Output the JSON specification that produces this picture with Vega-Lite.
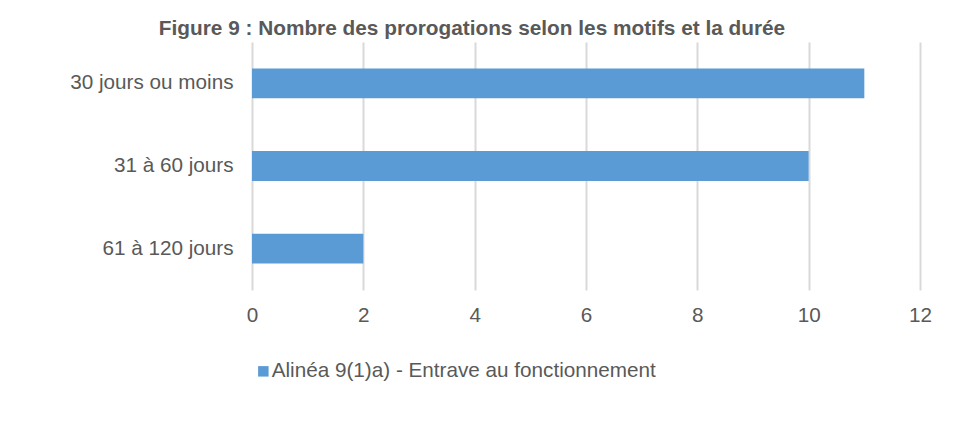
{
  "$schema": "https://vega.github.io/schema/vega-lite/v6.json",
  "autosize": {"type": "none"},
  "width": 668,
  "height": 248,
  "padding": {"left": 252, "top": 42, "right": 37, "bottom": 136},
  "background": "white",
  "config": {
    "font": "Liberation Sans",
    "view": {"stroke": null}
  },
  "title": {
    "text": "Figure 9 : Nombre des prorogations selon les motifs et la durée",
    "anchor": "middle",
    "dx": -114,
    "dy": 21,
    "offset": 7,
    "baseline": "alphabetic",
    "fontSize": 20.8,
    "fontWeight": "bold",
    "color": "#595959",
    "font": "Liberation Sans"
  },
  "data": {
    "values": [
      {"duree": "30 jours ou moins", "motif": "Alinéa 9(1)a) - Entrave au fonctionnement", "nombre": 11},
      {"duree": "31 à 60 jours", "motif": "Alinéa 9(1)a) - Entrave au fonctionnement", "nombre": 10},
      {"duree": "61 à 120 jours", "motif": "Alinéa 9(1)a) - Entrave au fonctionnement", "nombre": 2}
    ]
  },
  "mark": {"type": "bar"},
  "encoding": {
    "y": {
      "field": "duree",
      "type": "nominal",
      "sort": null,
      "title": null,
      "scale": {"paddingInner": 0.64, "paddingOuter": 0.32},
      "axis": {
        "domain": false,
        "ticks": false,
        "labelPadding": 19,
        "labelFontSize": 20.7,
        "labelColor": "#595959",
        "labelFont": "Liberation Sans",
        "labelLimit": 400
      }
    },
    "x": {
      "field": "nombre",
      "type": "quantitative",
      "title": null,
      "scale": {"domain": [0, 12], "nice": false},
      "axis": {
        "values": [0, 2, 4, 6, 8, 10, 12],
        "domain": false,
        "ticks": false,
        "grid": true,
        "gridColor": "#d9d9d9",
        "gridWidth": 2,
        "labelFlush": false,
        "labelPadding": 15,
        "labelFontSize": 20.7,
        "labelColor": "#595959",
        "labelFont": "Liberation Sans"
      }
    },
    "color": {
      "field": "motif",
      "type": "nominal",
      "scale": {"range": ["#5b9bd5"]},
      "legend": {
        "title": null,
        "orient": "none",
        "legendX": 1,
        "legendY": 319,
        "symbolType": "square",
        "symbolSize": 110,
        "symbolStrokeWidth": 0,
        "labelFontSize": 20.7,
        "labelColor": "#595959",
        "labelFont": "Liberation Sans",
        "labelOffset": -2,
        "labelLimit": 800
      }
    }
  }
}
